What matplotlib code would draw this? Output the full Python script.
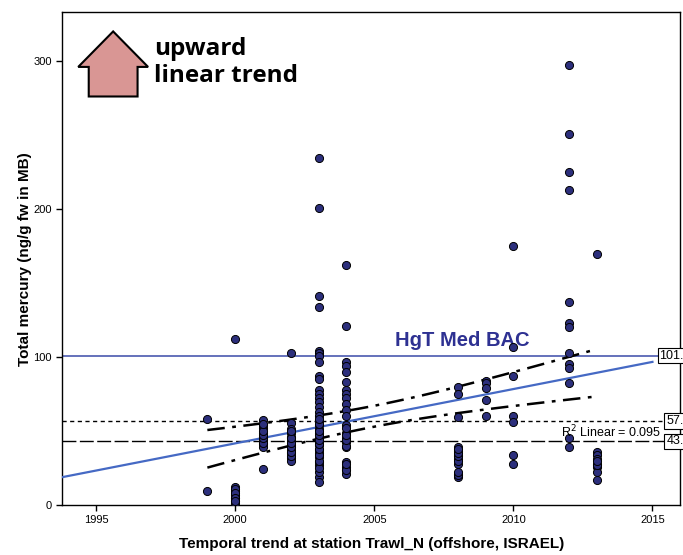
import numpy as np
import matplotlib
matplotlib.use("Agg")
import matplotlib.pyplot as plt
from matplotlib.patches import Polygon

# Hg values (ng/g fw) per sampling year
# (dense clusters hold overlapping points, estimated)
years_hg = {
    1999: [58, 9.5],
    2000: [112, 12.5, 9.8, 7, 4.8, 2.6, 1.5, 11, 8, 5, 3],
    2001: [57.5, 54, 52, 49, 46, 44, 41, 39, 24.5, 42, 45, 47, 50, 55],
    2002: [102.5, 55.5, 51.5, 48.5, 46, 43, 40.5, 37.5, 35, 32, 30,
           33, 36, 39, 42, 45, 50],
    2003: [234.5, 200.5, 141, 133.5, 104, 102.5, 101, 96.5, 87.5, 85.5, 77.5,
           75, 72.5, 69.5, 66, 63, 60.5, 57, 54, 51.5, 48.5, 45, 42.5, 40.5,
           37.5, 35, 32.5, 29, 27, 19, 15.5,
           22, 25, 30, 34, 38, 41, 44, 47, 50, 55, 58],
    2004: [162, 121, 96.5, 94, 90, 83, 78, 75, 72, 68.5, 64, 60.5, 54, 48.5,
           45.5, 42.5, 39.5, 29, 26, 23.5, 21,
           24, 28, 40, 44, 47, 52],
    2008: [79.5, 75, 59.5, 39.5, 36.5, 33.5, 31, 28, 21, 19,
           20, 22, 30, 33, 35, 38],
    2009: [84, 82.5, 79, 71, 60],
    2010: [175, 107, 87.5, 60, 56, 33.5, 27.5],
    2012: [297, 251, 225, 213, 137, 123, 120.5, 103, 95, 92.5, 82.5, 45, 39.5],
    2013: [169.5, 36, 33.5, 31, 28, 25.5, 22.5, 17, 27, 30],
}

bac_value = 101.0
line57_value = 57.0
line43_value = 43.0
r2_text = "R$^2$ Linear = 0.095"

x_ticks = [1995, 2000, 2005, 2010, 2015]
y_ticks = [0, 100, 200, 300]

x = np.concatenate([[yr] * len(v) for yr, v in years_hg.items()]).astype(float)
y = np.concatenate([v for v in years_hg.values()]).astype(float)

fig = plt.figure(figsize=(6.83, 5.55), dpi=100)
ax = fig.add_axes([0.091, 0.09, 0.905, 0.888])
ax.set_xlim(1993.78, 2016.0)
ax.set_ylim(0, 333)

# reference lines
ax.axhline(bac_value, color="#3b4aa8", lw=1.1, zorder=2)
ax.axhline(line57_value, color="black", lw=1.0, ls=(0, (3, 2.5)), zorder=2)
ax.axhline(line43_value, color="black", lw=1.0, ls=(0, (10, 2.5)), zorder=2)

# linear fit and 95% CI of the mean
n = len(x)
b, a = np.polyfit(x, y, 1)
resid = y - (a + b * x)
s = np.sqrt(np.sum(resid ** 2) / (n - 2))
sxx = np.sum((x - x.mean()) ** 2)
t = 1.975
xf = np.linspace(1993.78, 2015.0, 50)
ax.plot(xf, a + b * xf, color="#4569c4", lw=1.6, zorder=3)
xc = np.linspace(x.min(), x.max(), 50)
se = s * np.sqrt(1 / n + (xc - x.mean()) ** 2 / sxx)
for sign in (1, -1):
    ax.plot(xc, a + b * xc + sign * t * se, color="black", lw=1.8,
            ls=(0, (7, 3, 1.5, 3)), zorder=3)

ax.scatter(x, y, s=34, color="#2c2f7c", edgecolor="black", linewidth=0.7,
           zorder=4)

# right-edge value boxes (cut by the figure edge, as in the original)
box = dict(boxstyle="square,pad=0.15", fc="white", ec="black", lw=0.8)
ax.text(2015.25, bac_value, "101.0", fontsize=9, va="center", ha="left",
        bbox=box, zorder=6, family="Liberation Sans")
ax.text(2015.5, line57_value, "57.0", fontsize=9, va="center", ha="left",
        bbox=box, zorder=6, family="Liberation Sans")
ax.text(2015.5, line43_value, "43.0", fontsize=9, va="center", ha="left",
        bbox=box, zorder=6, family="Liberation Sans")
ax.text(2011.7, line43_value + 0.5, r2_text, fontsize=9, va="bottom",
        ha="left", family="Liberation Sans", zorder=5)

ax.text(2008.15, 111, "HgT Med BAC", fontsize=14.5, fontweight="bold",
        color="#2e3192", ha="center", va="center", family="Liberation Sans")

# block arrow with annotation
arrow = Polygon([(0.043, 0.829), (0.043, 0.889), (0.026, 0.889),
                 (0.0825, 0.961), (0.139, 0.889), (0.122, 0.889),
                 (0.122, 0.829)], closed=True, fc="#d99694", ec="black",
                lw=1.5, transform=ax.transAxes, zorder=5)
ax.add_patch(arrow)
ax.text(0.148, 0.898, "upward\nlinear trend", transform=ax.transAxes,
        fontsize=17.5, fontweight="bold", family="Open Sans", ha="left",
        va="center", linespacing=1.2, zorder=5)

ax.set_xticks(x_ticks)
ax.set_yticks(y_ticks)
ax.tick_params(labelsize=8, length=4, width=1)
for lab in ax.get_xticklabels() + ax.get_yticklabels():
    lab.set_family("Liberation Sans")
for sp in ax.spines.values():
    sp.set_linewidth(1)

ax.set_xlabel("Temporal trend at station Trawl_N (offshore, ISRAEL)",
              fontsize=11, fontweight="bold", family="Liberation Sans",
              labelpad=8)
ax.set_ylabel("Total mercury (ng/g fw in MB)", fontsize=11,
              fontweight="bold", family="Liberation Sans", labelpad=1)

fig.savefig("out.png", dpi=100)
